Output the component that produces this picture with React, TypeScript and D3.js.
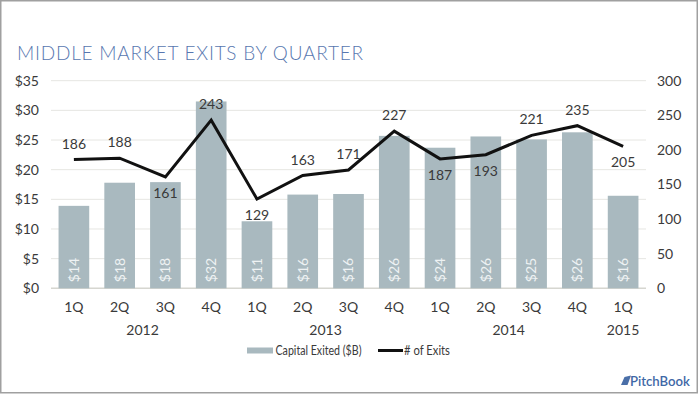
import React from "react";
import * as d3 from "d3";

const quarters = ["1Q", "2Q", "3Q", "4Q", "1Q", "2Q", "3Q", "4Q", "1Q", "2Q", "3Q", "4Q", "1Q"];
const years = ["2012", "2012", "2012", "2012", "2013", "2013", "2013", "2013", "2014", "2014", "2014", "2014", "2015"];
const capitalExited = [13.9, 17.8, 17.9, 31.5, 11.3, 15.8, 15.9, 25.7, 23.7, 25.6, 25.1, 26.3, 15.6];
const capitalLabels = ["$14", "$18", "$18", "$32", "$11", "$16", "$16", "$26", "$24", "$26", "$25", "$26", "$16"];
const exits = [186, 188, 161, 243, 129, 163, 171, 227, 187, 193, 221, 235, 205];
const exitLabelAbove = [true, true, false, true, false, true, true, true, false, false, true, true, false];
const leftTicks = [0, 5, 10, 15, 20, 25, 30, 35];
const rightTicks = [0, 50, 100, 150, 200, 250, 300];

const W = 700;
const H = 394;
// Lato is the closest installed face to Calibri
const font = "Lato, 'Open Sans', sans-serif";
const ink = "#3a3a3a";

const App: React.FC = () => {
  const ids = quarters.map((_, i) => String(i));
  const x = d3.scaleBand<string>().domain(ids).range([51, 646]).paddingInner(0.33).paddingOuter(0.165);
  const yL = d3.scaleLinear().domain([0, 35]).range([288.3, 80.7]);
  const yR = d3.scaleLinear().domain([0, 300]).range([288.3, 80.7]);
  const cx = (i: number) => (x(String(i)) ?? 0) + x.bandwidth() / 2;

  const line = d3
    .line<number>()
    .x((_, i) => cx(i))
    .y((d) => yR(d));

  // year groups: centre label under the quarters that belong to it
  const yearGroups = d3.groups(
    years.map((y, i) => ({ y, i })),
    (d) => d.y
  );

  return (
    <svg width={W} height={H} style={{ position: "absolute", left: 0, top: 0, display: "block" }}>
      <rect x={0.75} y={0.75} width={696.5} height={392} fill="#fff" stroke="#a0a0a0" strokeWidth={1.5} />
      <text
        x={17}
        y={60}
        fontFamily="Lato, 'Open Sans', sans-serif"
        fontWeight={300}
        fontSize={19}
        fill="#5877b0"
        textLength={346}
        lengthAdjust="spacing"
      >
        MIDDLE MARKET EXITS BY QUARTER
      </text>

      {leftTicks.map((t) => (
        <line key={"g" + t} x1={51} x2={646} y1={yL(t)} y2={yL(t)} stroke={t === 0 ? "#d6d6d0" : "#e6e6e2"} strokeWidth={t === 0 ? 1.5 : 1} />
      ))}
      {leftTicks.map((t) => (
        <text key={"l" + t} x={39} y={yL(t)} dy="0.35em" textAnchor="end" fontFamily={font} fontSize={14} fill={ink}>
          ${t}
        </text>
      ))}
      {rightTicks.map((t) => (
        <text key={"r" + t} x={657} y={yR(t)} dy="0.35em" textAnchor="start" fontFamily={font} fontSize={14} fill={ink}>
          {t}
        </text>
      ))}

      {capitalExited.map((v, i) => (
        <rect key={"b" + i} x={x(String(i))} y={yL(v)} width={x.bandwidth()} height={yL(0) - yL(v)} fill="#a9b9bf" />
      ))}
      {capitalLabels.map((l, i) => (
        <text
          key={"bl" + i}
          transform={`translate(${cx(i)},${270}) rotate(-90)`}
          textAnchor="middle"
          dy="0.35em"
          fontFamily={font}
          fontSize={14}
          fill="#eef2f3"
        >
          {l}
        </text>
      ))}

      <path d={line(exits) ?? ""} fill="none" stroke="#111" strokeWidth={3} strokeLinejoin="miter" />
      {exits.map((v, i) => (
        <text
          key={"el" + i}
          x={cx(i)}
          y={exitLabelAbove[i] ? yR(v) - 11 : yR(v) + 21}
          textAnchor="middle"
          fontFamily={font}
          fontSize={14}
          fill={ink}
        >
          {v}
        </text>
      ))}

      {quarters.map((q, i) => (
        <text key={"q" + i} x={cx(i)} y={312} textAnchor="middle" fontFamily={font} fontSize={14} fill={ink}>
          {q}
        </text>
      ))}
      {yearGroups.map(([yr, items]) => {
        const first = items[0].i;
        const last = items[items.length - 1].i;
        return (
          <text key={yr} x={(cx(first) + cx(last)) / 2} y={335} textAnchor="middle" fontFamily={font} fontSize={14} fill={ink}>
            {yr}
          </text>
        );
      })}

      <g fontFamily={font} fontSize={12.5} fill={ink}>
        <rect x={247} y={347.5} width={26} height={6} fill="#a9b9bf" />
        <text x={275.5} y={355} textLength={86} lengthAdjust="spacingAndGlyphs">
          Capital Exited ($B)
        </text>
        <line x1={378} x2={403} y1={350.5} y2={350.5} stroke="#111" strokeWidth={3} />
        <text x={404} y={355} textLength={46} lengthAdjust="spacingAndGlyphs">
          # of Exits
        </text>
      </g>

      <g>
        <path d="M 621 385 L 624.5 377 L 631 375.5 L 627.5 385 Z" fill="#4a6fa8" />
        <text x={630} y={385.5} fontFamily={font} fontSize={14} fontWeight={600} fill="#3f68a6" textLength={60} lengthAdjust="spacingAndGlyphs">
          PitchBook
        </text>
      </g>
    </svg>
  );
};

export default App;
